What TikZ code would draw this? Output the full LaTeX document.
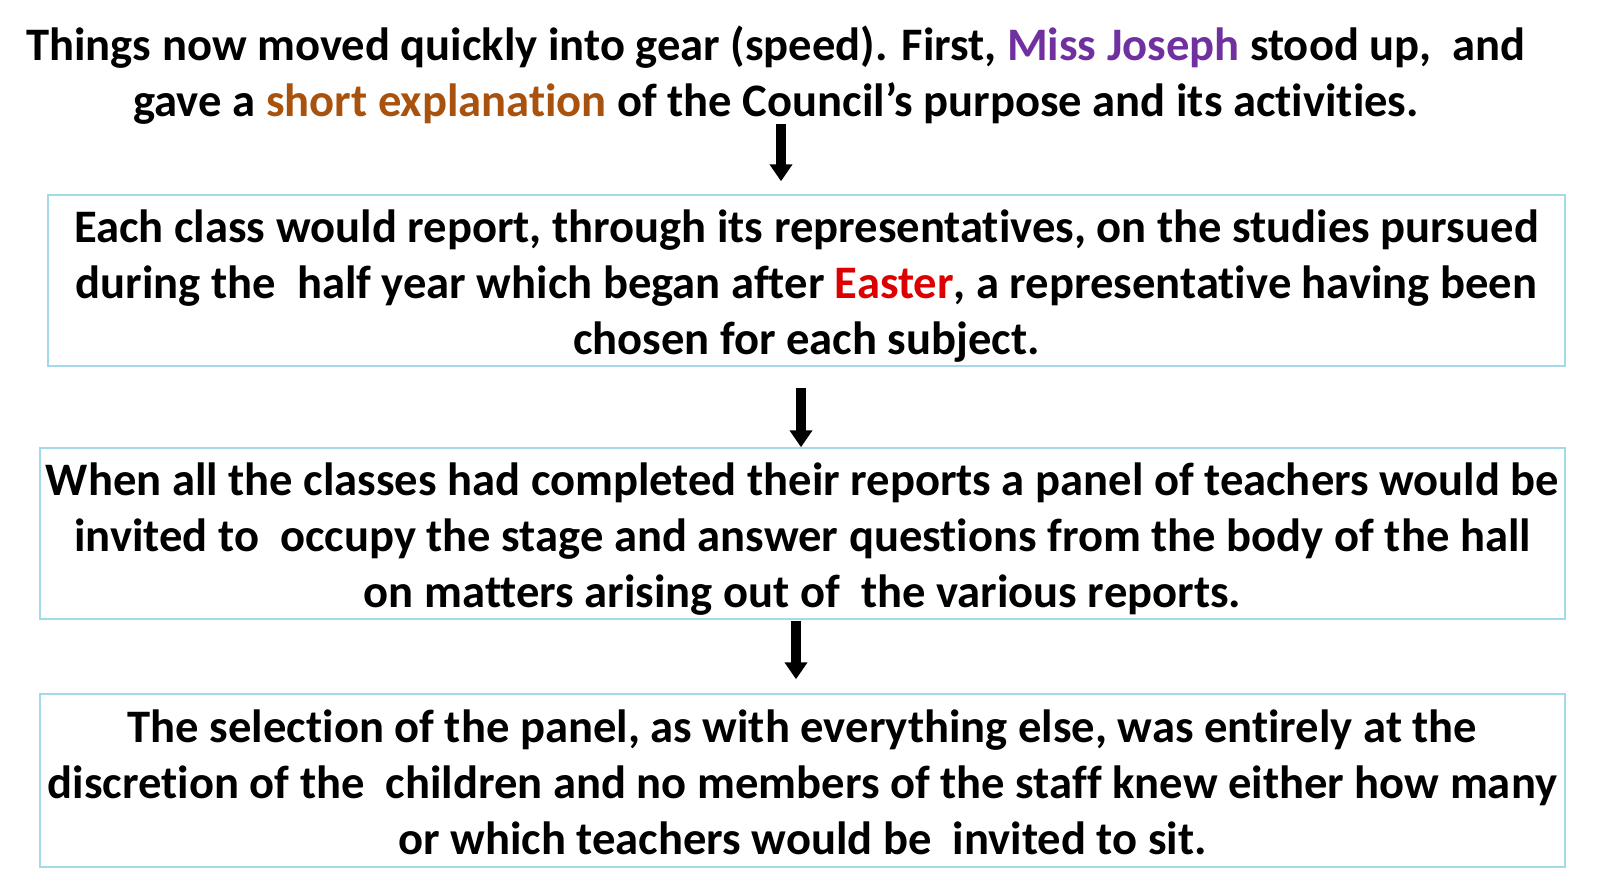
\documentclass[tikz,border=0pt]{standalone}
\usepackage{fontspec}
\setmainfont[Ligatures={NoCommon}]{Carlito}
\usepackage{xcolor}
\usepackage{tikz}
\usetikzlibrary{arrows.meta,positioning,calc}

\definecolor{josephpurple}{HTML}{7030A0}
\definecolor{explbrown}{HTML}{A8520E}
\definecolor{eastered}{HTML}{DD0000}
\definecolor{boxblue}{HTML}{A3DAEA}
% taller first line pushes the block down a little
\newcommand{\lift}[1][44pt]{\rule{0pt}{#1}}

\begin{document}
\begin{tikzpicture}[
  x=1pt, y=-1pt,
  txt/.style={align=center, font=\fontsize{46.6}{56}\selectfont\bfseries},
  stage/.style={txt, draw=boxblue, line width=1.5pt, minimum height=171pt, inner sep=0pt},
  flowarr/.style={-{Triangle[length=17pt, width=22pt]}, line width=10pt}
]
  \useasboundingbox (0,0) rectangle (1600,894);
  \node[txt, inner sep=0pt] (title) at (776,75) {Things now moved quickly into gear (speed). First, \textcolor{josephpurple}{Miss Joseph} stood up,\ \ and\\
    gave a \textcolor{explbrown}{short explanation} of the Council’s purpose and its activities.};
  \node[stage, minimum width=1517pt] (box1) at (806.5,280.5) {\lift Each class would report, through its representatives, on the studies pursued\\
    during the\ \ half year which began after \textcolor{eastered}{Easter}, a representative having been\\
    chosen for each subject.};
  \node[stage, minimum width=1525pt] (box2) at (802.5,533.5) {\lift When all the classes had completed their reports a panel of teachers would be\\
    invited to\ \ occupy the stage and answer questions from the body of the hall\\
    on matters arising out of\ \ the various reports.};
  \node[stage, minimum width=1525pt, minimum height=173pt] (box3) at (802.5,780.5) {\lift[36pt]The selection of the panel, as with everything else, was entirely at the\\
    discretion of the\ \ children and no members of the staff knew either how many\\
    or which teachers would be\ \ invited to sit.};
  % arrow positions
  \coordinate (ax1) at (781,0);
  \coordinate (ax2) at (801,0);
  \coordinate (ax3) at (796,0);
  \draw[flowarr, shorten >=13pt] (title.south -| ax1) -- (box1.north -| ax1);
  \draw[flowarr, shorten <=21pt] (box1.south -| ax2) -- (box2.north -| ax2);
  \draw[flowarr, shorten <=1pt, shorten >=14pt] (box2.south -| ax3) -- (box3.north -| ax3);
\end{tikzpicture}
\end{document}
